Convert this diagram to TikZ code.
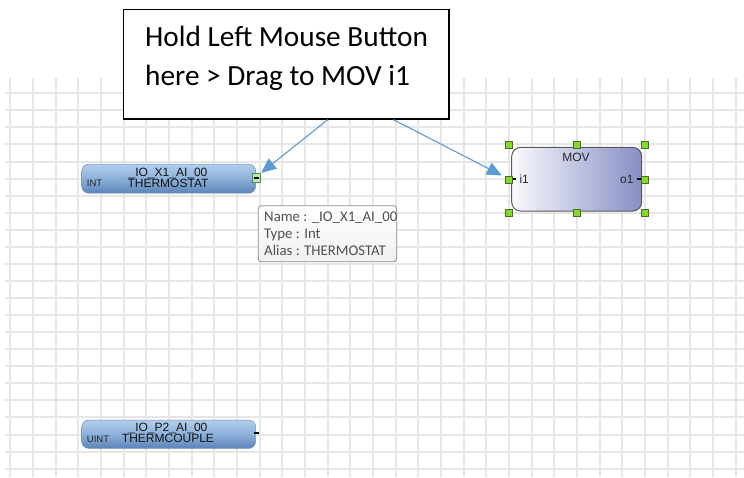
\documentclass[tikz,border=0pt]{standalone}
\usepackage{fontspec}
\setmainfont{Carlito}
\newfontfamily\arialf{Liberation Sans}
\usetikzlibrary{arrows.meta,calc}
\definecolor{gridc}{HTML}{E6E6E6}
\definecolor{arrowc}{HTML}{5B9BD5}
\definecolor{handlef}{HTML}{86D92B}
\definecolor{handled}{HTML}{4B6B2B}
\definecolor{blocktop}{RGB}{180,206,236}
\definecolor{blockmid}{RGB}{140,176,218}
\definecolor{blockbot}{RGB}{92,132,184}
\definecolor{blockedge}{RGB}{110,145,190}
\definecolor{movleft}{RGB}{250,250,253}
\definecolor{movright}{RGB}{135,142,198}
\definecolor{tiptext}{HTML}{505050}
\tikzset{
  gridline/.style={draw=gridc, line width=2pt},
  ioblock/.style={draw=blockedge, line width=0.5pt, rounded corners=7pt,
    minimum width=174pt, inner sep=0pt,
    top color=blocktop, bottom color=blockbot, middle color=blockmid},
  blocktext/.style={font=\arialf\fontsize{12}{12}\selectfont, text=black!92, inner sep=0pt, anchor=base},
  typetext/.style={font=\arialf\fontsize{9.5}{9.5}\selectfont, text=black!85, inner sep=0pt, anchor=base west},
  callbox/.style={draw=black, line width=1.2pt, fill=white, inner sep=0pt,
    minimum width=325.7pt, minimum height=109.7pt},
  calltext/.style={font=\fontsize{29.3}{38}\selectfont, inner sep=0pt, anchor=base west},
  callarrow/.style={draw=arrowc, line width=1.1pt, -{Triangle[length=15pt,width=13pt]}},
  tipbox/.style={draw=black!45, line width=0.8pt, rounded corners=3pt, inner sep=0pt,
    top color=white, bottom color=black!6, minimum width=138.4pt, minimum height=56pt},
  tiplabel/.style={font=\fontsize{14.8}{14.8}\selectfont, text=tiptext, inner sep=0pt, anchor=base west},
  movblock/.style={draw=black!65, line width=1pt, rounded corners=9pt, inner sep=0pt,
    left color=movleft, right color=movright, minimum width=130pt, minimum height=63.7pt},
  movtext/.style={font=\arialf\fontsize{12}{12}\selectfont, text=black!85, inner sep=0pt},
  handle/.style={draw=handled, line width=0.6pt, fill=handlef, minimum size=7pt, inner sep=0pt},
  selport/.style={draw=green!55!black!80, line width=0.8pt, fill={rgb,255:red,200;green,222;blue,190},
    minimum width=8pt, minimum height=9.5pt, inner sep=0pt},
  portbar/.style={fill=black, minimum width=5.5pt, minimum height=2.4pt, inner sep=0pt},
}
\begin{document}
\begin{tikzpicture}[x=1pt,y=-1pt]
\useasboundingbox (0,0) rectangle (744,477);
\fill[white] (0,0) rectangle (744,477);
% grid
\foreach \k in {0,...,32} \draw[gridline] ({10.3+22.67*\k},78) -- ({10.3+22.67*\k},477);
\foreach \k in {0,...,22} \draw[gridline] (5,{93.3+17.06*\k}) -- (744,{93.3+17.06*\k});

% THERMOSTAT block
\node[ioblock, minimum height=29pt] (thermo) at (168.7,178.7) {};
\node[blocktext] (tname) at (168,176) {\_IO\_X1\_AI\_00};
\node[blocktext] (talias) at (168,187.6) {THERMOSTAT};
\node[typetext] (ttype) at (86.7,186.8) {INT};
\node[selport] (tport) at (256.7,178) {};
\node[portbar] (tbar) at (tport.center) {};

% THERMCOUPLE block
\node[ioblock, minimum height=28.3pt] (tc) at (168.7,434.2) {};
\node[blocktext] (cname) at (168,431.2) {\_IO\_P2\_AI\_00};
\node[blocktext] (calias) at (168,442.8) {THERMCOUPLE};
\node[typetext] (ctype) at (86.7,442.2) {UINT};
\node[portbar] (cport) at (256.7,433.2) {};

% tooltip
\node[tipbox] (tooltip) at (327.5,233.7) {};
\node[tiplabel] (tip1) at (264,221) {Name : \_IO\_X1\_AI\_00};
\node[tiplabel] (tip2) at (264,238.3) {Type : Int};
\node[tiplabel] (tip3) at (264,255.7) {Alias : THERMOSTAT};

% MOV block
\node[movblock] (mov) at (576.7,179.2) {};
\node[movtext, anchor=base] (movname) at (576,161.7) {MOV};
\node[movtext, anchor=base west] (movi) at (519.3,183.3) {i1};
\node[movtext, anchor=base west] (movo) at (620,183.3) {o1};
\draw[line width=2pt] (mov.west) ++(-4,0) -- ++(9,0);
\draw[line width=2pt] (mov.east) ++(4,0) -- ++(-9,0);
\node[handle] (hnw) at (508.7,145) {};
\node[handle] (hn)  at (576.7,145) {};
\node[handle] (hne) at (644.5,145) {};
\node[handle] (hi1) at (508.7,179.3) {};
\node[handle] (ho1) at (644.5,179.3) {};
\node[handle] (hsw) at (508.7,212.3) {};
\node[handle] (hs)  at (576.7,212.3) {};
\node[handle] (hse) at (644.5,212.3) {};

% callout
\node[callbox] (callout) at (286.2,64.2) {};
\node[calltext] (cl1) at (145,46.7) {Hold Left Mouse Button};
\node[calltext] (cl2) at (145,85) {here > Drag to MOV i1};
\coordinate (s1) at ($(callout.south west)+(205,0)$);
\coordinate (s2) at ($(callout.south west)+(270.7,0)$);
\coordinate (t2) at ($(hi1.north west)+(-3,0)$);
\draw[callarrow] (s1) -- (tport.north east);
\draw[callarrow] (s2) -- (t2);
\end{tikzpicture}
\end{document}
